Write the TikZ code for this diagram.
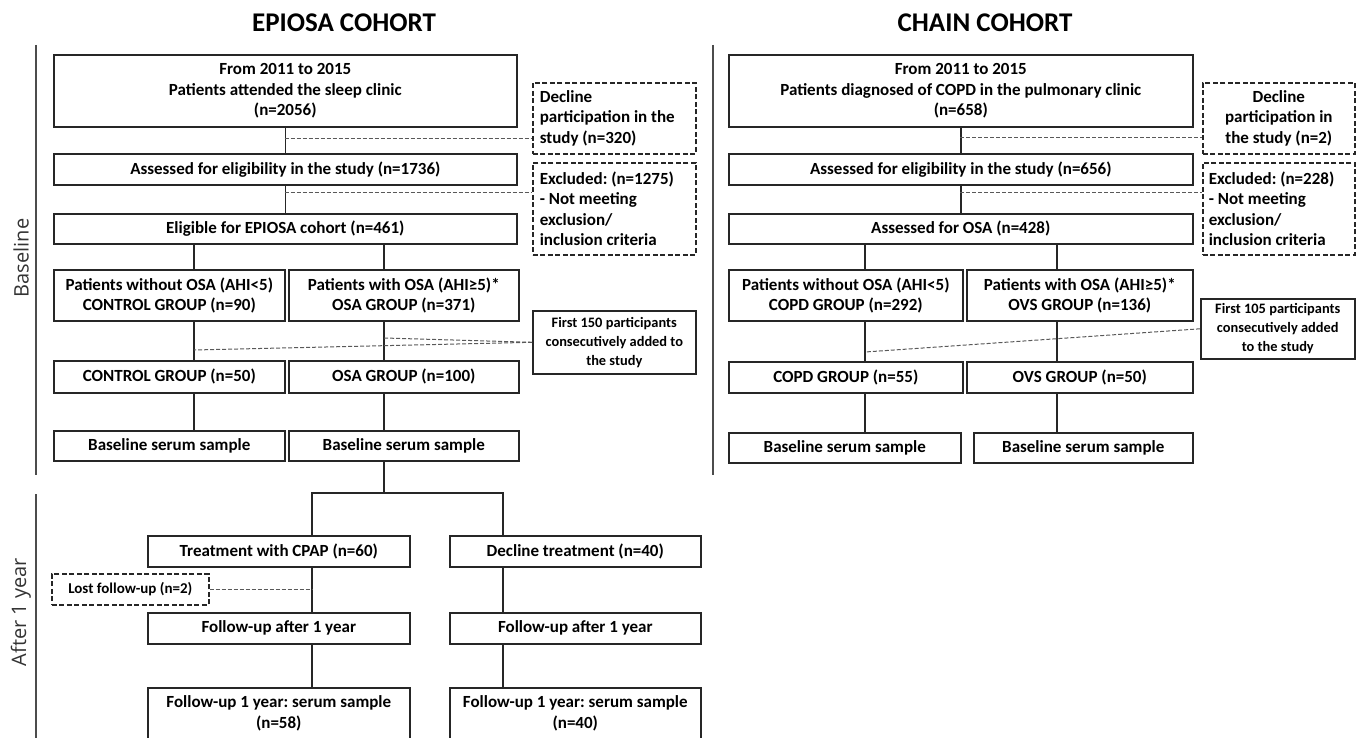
\documentclass[tikz,border=0pt]{standalone}
\usepackage{fontspec}
\setmainfont{Carlito}
\newfontfamily\sidefont{Open Sans}
\frenchspacing

\begin{document}
\begin{tikzpicture}[x=1pt, y=-1pt,
  box/.style={draw=black!85, line width=1.6pt, fill=white, inner sep=0pt, align=center, anchor=north west, font=\fontsize{17}{20.5}\selectfont\bfseries},
  dbox/.style={box, dash pattern=on 5pt off 2.5pt},
  small/.style={font=\fontsize{14.4}{19}\selectfont\bfseries},
  link/.style={draw=black!85, line width=1.5pt},
  dlink/.style={draw=black!65, line width=1pt, dash pattern=on 4pt off 2pt},
  side/.style={font=\sidefont\fontsize{20}{24}\selectfont, text=black!80, rotate=90},
  head/.style={font=\fontsize{27}{30}\selectfont\bfseries},
  rule/.style={draw=black!70, line width=1.2pt}]
\useasboundingbox (0,0) rectangle (1357,738);

\node[head] (epi) at (344,23) {EPIOSA COHORT};
\node[head] (chain) at (985,23) {CHAIN COHORT};
\node[side] (base) at (21,258) {Baseline};
\node[side] (after) at (21,612) {After 1 year};
\draw[rule] (36,45) -- (36,475);
\draw[rule] (36,494) -- (36,738);
\draw[rule] (713,45) -- (713,475);

\coordinate (sL) at (194,0);
\coordinate (sR) at (384,0);
\coordinate (tL) at (312,0);
\coordinate (tR) at (503,0);
\coordinate (fork) at (384,493);
\coordinate (j1) at (284.5,139);
\coordinate (j2) at (284.5,193);
\coordinate (m1) at (384,338);
\coordinate (m2) at (194,350);

\node[box, minimum width=463, minimum height=72] (a1) at (53,54) {From 2011 to 2015\\ Patients attended the sleep clinic\\ (n=2056)};
\node[dbox, minimum width=163, minimum height=71, text width=149, align=flush left] (d1) at (532,82) {Decline\\ participation in the\\ study (n=320)};
\node[box, minimum width=463, minimum height=31] (a2) at (53,153) {Assessed for eligibility in the study (n=1736)};
\node[dbox, minimum width=163, minimum height=92, text width=149, align=flush left] (d2) at (532,162) {Excluded: (n=1275)\\ - Not meeting\\ exclusion/\\ inclusion criteria};
\node[box, minimum width=463, minimum height=30] (a3) at (53,213) {Eligible for EPIOSA cohort (n=461)};
\node[box, minimum width=231, minimum height=51] (b1) at (53,269) {Patients without OSA (AHI<5)\\ CONTROL GROUP (n=90)};
\node[box, minimum width=230, minimum height=51] (b2) at (288,269) {Patients with OSA (AHI≥5)*\\ OSA GROUP (n=371)};
\node[box, small, minimum width=163, minimum height=63] (f1) at (532,310) {First 150 participants\\ consecutively added to\\ the study};
\node[box, minimum width=231, minimum height=32] (c1) at (53,360) {CONTROL GROUP (n=50)};
\node[box, minimum width=230, minimum height=32] (c2) at (288,360) {OSA GROUP (n=100)};
\node[box, minimum width=231, minimum height=30] (e1) at (53,430) {Baseline serum sample};
\node[box, minimum width=230, minimum height=30] (e2) at (288,430) {Baseline serum sample};
\node[box, minimum width=262, minimum height=31] (t1) at (147,535) {Treatment with CPAP (n=60)};
\node[box, minimum width=251, minimum height=31] (t2) at (449,535) {Decline treatment (n=40)};
\node[dbox, small, font=\fontsize{15}{19}\selectfont\bfseries, minimum width=157, minimum height=31] (l1) at (51,573) {Lost follow-up (n=2)};
\node[box, minimum width=262, minimum height=31] (g1) at (147,612) {Follow-up after 1 year};
\node[box, minimum width=251, minimum height=31] (g2) at (449,612) {Follow-up after 1 year};
\node[box, minimum width=262, minimum height=51] (h1) at (147,687) {Follow-up 1 year: serum sample\\ (n=58)};
\node[box, minimum width=251, minimum height=51] (h2) at (449,687) {Follow-up 1 year: serum sample\\ (n=40)};

\draw[link] (a1) -- (a2);
\draw[link] (a2) -- (a3);
\draw[link] (a3.south -| sL) -- (b1.north -| sL);
\draw[link] (a3.south -| sR) -- (b2.north -| sR);
\draw[link] (b1.south -| sL) -- (c1.north -| sL);
\draw[link] (b2.south -| sR) -- (c2.north -| sR);
\draw[link] (c1.south -| sL) -- (e1.north -| sL);
\draw[link] (c2.south -| sR) -- (e2.north -| sR);
\draw[link] (e2.south -| fork) -- (fork);
\draw[link] (t1.north -| tL) -- (tL |- fork) -- (tR |- fork) -- (t2.north -| tR);
\draw[link] (t1.south -| tL) -- (g1.north -| tL);
\draw[link] (t2.south -| tR) -- (g2.north -| tR);
\draw[link] (g1.south -| tL) -- (h1.north -| tL);
\draw[link] (g2.south -| tR) -- (h2.north -| tR);
\draw[dlink] (j1) -- (j1 -| d1.west);
\draw[dlink] (j2) -- (j2 -| d2.west);
\draw[dlink] (f1.west) -- (m1);
\draw[dlink] (f1.west) -- (m2);
\draw[dlink] (l1.east) -- (l1.east -| tL);

\coordinate (qL) at (865,0);
\coordinate (qR) at (1057,0);
\coordinate (j3) at (960,138);
\coordinate (j4) at (960,193);
\coordinate (m3) at (865,352);

\node[box, minimum width=464, minimum height=72] (r1) at (728,54) {From 2011 to 2015\\ Patients diagnosed of COPD in the pulmonary clinic\\ (n=658)};
\node[dbox, minimum width=152, minimum height=71] (rd1) at (1202,82) {Decline\\ participation in\\ the study (n=2)};
\node[box, minimum width=464, minimum height=31] (r2) at (728,153) {Assessed for eligibility in the study (n=656)};
\node[dbox, minimum width=152, minimum height=92, text width=140, align=flush left] (rd2) at (1202,162) {Excluded: (n=228)\\ - Not meeting\\ exclusion/\\ inclusion criteria};
\node[box, minimum width=464, minimum height=30] (r3) at (728,213) {Assessed for OSA (n=428)};
\node[box, minimum width=234, minimum height=51] (rb1) at (728,269) {Patients without OSA (AHI<5)\\ COPD GROUP (n=292)};
\node[box, minimum width=226, minimum height=51] (rb2) at (966,269) {Patients with OSA (AHI≥5)*\\ OVS GROUP (n=136)};
\node[box, small, minimum width=154, minimum height=60] (rf) at (1200,298) {First 105 participants\\ consecutively added\\ to the study};
\node[box, minimum width=234, minimum height=31] (rc1) at (728,361) {COPD GROUP (n=55)};
\node[box, minimum width=226, minimum height=31] (rc2) at (966,361) {OVS GROUP (n=50)};
\node[box, minimum width=232, minimum height=30] (re1) at (728,432) {Baseline serum sample};
\node[box, minimum width=219, minimum height=30] (re2) at (973,432) {Baseline serum sample};

\draw[link] (r1) -- (r2);
\draw[link] (r2) -- (r3);
\draw[link] (r3.south -| qL) -- (rb1.north -| qL);
\draw[link] (r3.south -| qR) -- (rb2.north -| qR);
\draw[link] (rb1.south -| qL) -- (rc1.north -| qL);
\draw[link] (rb2.south -| qR) -- (rc2.north -| qR);
\draw[link] (rc1.south -| qL) -- (re1.north -| qL);
\draw[link] (rc2.south -| qR) -- (re2.north -| qR);
\draw[dlink] (j3) -- (j3 -| rd1.west);
\draw[dlink] (j4) -- (j4 -| rd2.west);
\draw[dlink] (rf.west) -- (m3);
\end{tikzpicture}
\end{document}
